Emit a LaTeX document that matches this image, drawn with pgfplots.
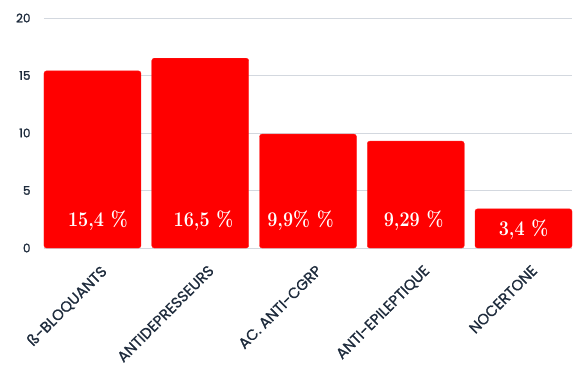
\documentclass[border=0pt]{standalone}
\usepackage{pgfplots}
\pgfplotsset{compat=1.18}
\usepackage{fontspec}
\newfontfamily\pop{Poppins}[FakeBold=1.5]
\newfontfamily\popx{Poppins}[FakeBold=1]
\definecolor{navy}{HTML}{1E2B3C}
\definecolor{gridc}{HTML}{D3D8DF}
\begin{document}
\begin{tikzpicture}
\path[use as bounding box] (-44bp,-137bp) rectangle (534bp,248bp);
\begin{axis}[
  scale only axis, width=528bp, height=230bp,
  anchor=south west, at={(0,0)},
  xmin=-0.45, xmax=4.45, ymin=0, ymax=20,
  ytick={0,5,10,15,20},
  xtick={0,1,2,3,4},
  xticklabels={ß-BLOQUANTS, ANTIDEPRESSEURS, AC. ANTI-CGRP, ANTI-EPILEPTIQUE, NOCERTONE},
  axis line style={draw=none}, major tick length=0pt,
  ymajorgrids, grid style={gridc, line width=0.8pt},
  tick label style={text=navy},
  yticklabel style={xshift=-10bp, font=\pop\fontsize{12}{14}\selectfont},
  xticklabel style={rotate=45, anchor=north east, xshift=-3bp, yshift=-13bp, font=\popx\fontsize{15}{17}\selectfont},
  /pgf/number format/assume math mode=true,
  clip=false,
]
\addplot[ybar, bar width=97bp, fill=red, draw=red!90, rounded corners=2.5pt]
  coordinates {(0,15.4) (1,16.5) (2,9.9) (3,9.29) (4,3.4)};
\addplot[draw=none, mark=none, nodes near coords={\scalebox{0.86}[1]{\pgfplotspointmeta}}, point meta=explicit symbolic,
  every node near coord/.style={anchor=center, text=white, font=\bfseries\fontsize{21}{23}\selectfont}]
  coordinates {(0.05,2.4) [15,4 \%] (1.03,2.4) [16,5 \%] (1.93,2.4) [9,9\% \%] (2.98,2.4) [9,29 \%] (4,1.55) [3,4 \%]};
\end{axis}
\end{tikzpicture}
\end{document}
